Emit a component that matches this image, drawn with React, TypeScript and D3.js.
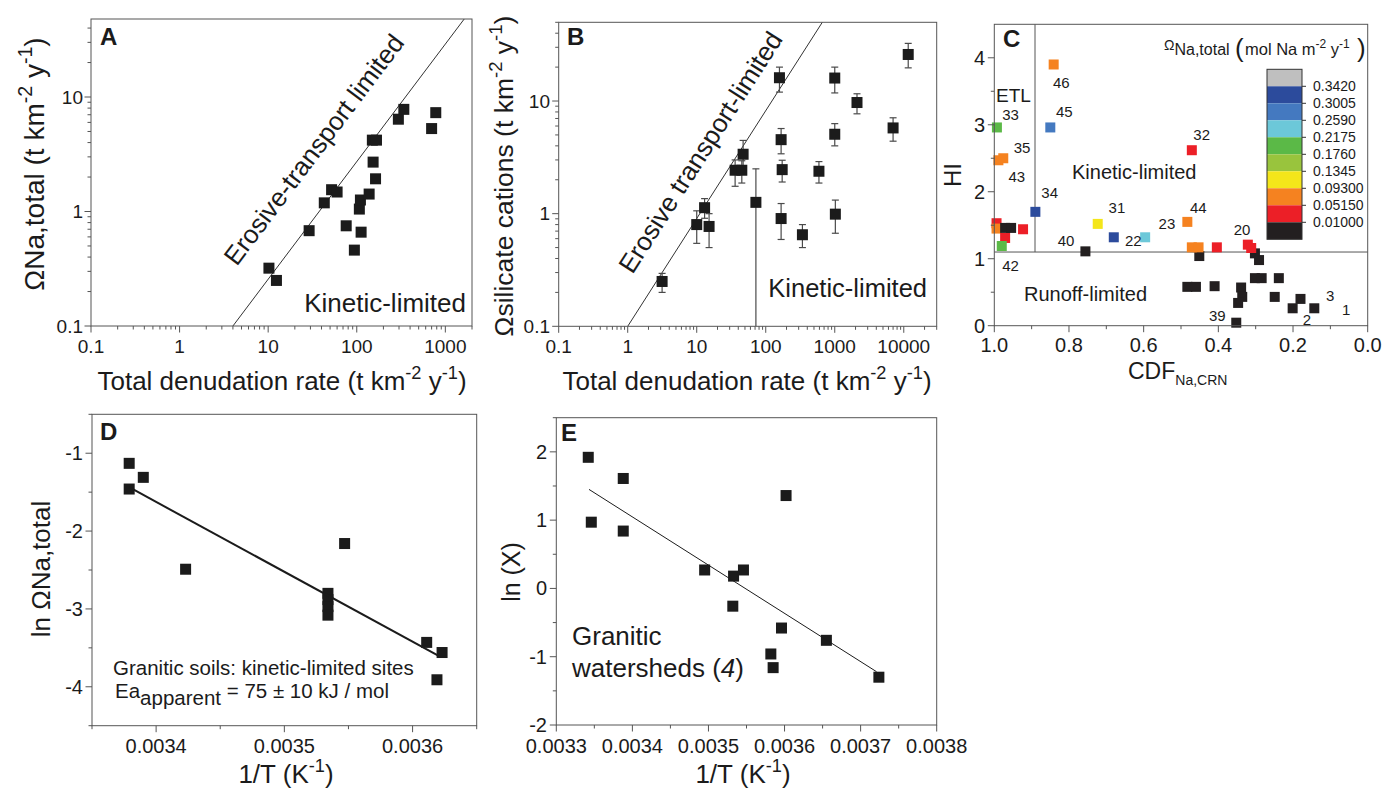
import React from 'react';
import * as d3 from 'd3';

const FONT = '"Liberation Sans", Arial, Helvetica, sans-serif';
const INK = '#1b1b1b';
const FRAME = '#555';

// panel A: total denudation vs Omega Na,total
const aDenudation = [10.2, 12.4, 29, 43, 52, 60, 76, 94, 107, 110, 112, 138, 150, 167, 153, 163, 295, 340, 700, 780];
const aOmegaNa = [0.32, 0.25, 0.68, 1.19, 1.55, 1.48, 0.75, 0.46, 1.05, 1.26, 0.66, 1.42, 4.2, 4.2, 2.7, 1.93, 6.4, 7.8, 5.3, 7.3];
const aBoundaryX = [4, 1700];
const aBoundaryY = [0.1, 50];
const aXTicks = [0.1, 1, 10, 100, 1000];
const aYTicks = [0.1, 1, 10];

// panel B: total denudation vs silicate cations (with error bars)
const bDenudation = [3.15, 10, 13, 15.1, 36, 45, 47, 72, 158, 167, 173, 167, 340, 590, 1000, 1000, 1020, 2100, 7000, 11600];
const bSilicate = [0.25, 0.8, 1.13, 0.77, 2.43, 2.43, 3.37, 1.26, 16.1, 4.54, 2.46, 0.905, 0.65, 2.38, 16, 5.07, 0.99, 9.7, 5.77, 25.9];
const bHigh = [0.295, 1.06, 1.36, 1.0, 3.0, 2.95, 4.47, 2.5, 20, 5.7, 2.98, 1.23, 0.8, 2.9, 20, 6.3, 1.32, 11.6, 7.1, 32.5];
const bLow = [0.2, 0.545, 0.91, 0.5, 1.75, 1.87, 2.5, 0.05, 12, 3.4, 1.91, 0.59, 0.5, 1.87, 11.8, 4.0, 0.67, 7.7, 4.4, 19.7];
const bBoundaryX = [1, 660];
const bBoundaryY = [0.1, 50];
const bXTicks = [0.1, 1, 10, 100, 1000, 10000];
const bYTicks = [0.1, 1, 10];

// panel C: HI vs CDF, coloured by Omega class
const cbColors = ['#bfbfbf', '#2c4b9c', '#4479c0', '#6cc8d9', '#5bb947', '#99c43d', '#f4e61a', '#f58220', '#ec1f27', '#231f20'];
const cbLabels = ['0.3420', '0.3005', '0.2590', '0.2175', '0.1760', '0.1345', '0.09300', '0.05150', '0.01000'];
const cCdf = [0.302, 0.291, 0.302, 0.284, 0.238, 0.483, 0.46, 0.41, 0.339, 0.336, 0.347, 0.249, 0.18, 0.201, 0.143, 0.352, 0.451,
  0.994, 0.994, 0.971, 0.98, 0.971, 0.955, 0.923, 0.841, 0.993, 0.85, 0.989, 0.976, 0.89, 0.756, 0.723, 0.68, 0.596, 0.483, 0.471, 0.471, 0.453, 0.404, 0.321, 0.312];
const cHi = [1.08, 0.98, 0.71, 0.71, 0.71, 0.58, 0.58, 0.59, 0.57, 0.43, 0.34, 0.43, 0.4, 0.26, 0.26, 0.045, 1.04,
  1.53, 1.45, 1.31, 1.19, 1.46, 1.46, 1.44, 3.9, 2.96, 2.96, 2.47, 2.5, 1.7, 1.11, 1.52, 1.32, 1.32, 1.55, 2.62, 1.17, 1.17, 1.17, 1.21, 1.16];
const cClass = [9, 9, 9, 9, 9, 9, 9, 9, 9, 9, 9, 9, 9, 9, 9, 9, 9,
  8, 7, 8, 4, 9, 9, 8, 7, 4, 2, 7, 7, 1, 9, 6, 1, 3, 7, 8, 7, 7, 8, 8, 8];
const cTagText = ['46', '45', '33', '35', '43', '34', '31', '23', '22', '40', '42', '44', '32', '20', '39', '3', '2', '1'];
const cTagCdf = [0.843, 0.835, 0.979, 0.948, 0.962, 0.874, 0.694, 0.56, 0.65, 0.83, 0.979, 0.476, 0.467, 0.359, 0.425, 0.112, 0.174, 0.069];
const cTagHi = [3.55, 3.11, 3.07, 2.58, 2.15, 1.91, 1.68, 1.45, 1.19, 1.19, 0.82, 1.68, 2.78, 1.36, 0.07, 0.37, 0.01, 0.16];
const cEtlCdf = 0.891;
const cKineticHi = 1.1;
const cXTicks = [1.0, 0.8, 0.6, 0.4, 0.2, 0.0];
const cYTicks = [0, 1, 2, 3, 4];

// panel D: granitic soils
const dInvT = [0.003379, 0.003379, 0.00339, 0.003423, 0.003534, 0.003534, 0.003534, 0.003534, 0.003547, 0.003611, 0.003623, 0.003619];
const dLnOmega = [-1.13, -1.46, -1.31, -2.49, -2.8, -2.88, -2.97, -3.08, -2.16, -3.43, -3.56, -3.91];
const dFitX = [0.003379, 0.00362];
const dFitY = [-1.437, -3.6];
const dXTicks = [0.0034, 0.0035, 0.0036];
const dYTicks = [-1, -2, -3, -4];

// panel E: granitic watersheds
const eInvT = [0.003342, 0.003346, 0.003388, 0.003388, 0.003495, 0.003533, 0.003546, 0.003532, 0.003602, 0.003596, 0.003582, 0.003585, 0.003655, 0.003724];
const eLnX = [1.92, 0.97, 1.61, 0.84, 0.27, 0.18, 0.27, -0.26, 1.36, -0.58, -0.96, -1.16, -0.76, -1.3];
const eFitX = [0.003343, 0.003721];
const eFitY = [1.45, -1.22];
const eXTicks = [0.0033, 0.0034, 0.0035, 0.0036, 0.0037, 0.0038];
const eYTicks = [-2, -1, 0, 1, 2];

const isPow10 = (v: number) => Math.abs(Math.log10(v) - Math.round(Math.log10(v))) < 1e-6;

function Box({ x, y }: any) {
  const [x0, x1] = x.range();
  const [y0, y1] = y.range();
  return <rect x={Math.min(x0, x1)} y={Math.min(y0, y1)} width={Math.abs(x1 - x0)} height={Math.abs(y1 - y0)}
    fill="none" stroke={FRAME} strokeWidth={1} />;
}

function XAxis({ scale, y, majors, minors, fmt, fs, labelY }: any) {
  return (
    <g>
      {minors.map((v: number, i: number) => (
        <line key={'m' + i} x1={scale(v)} x2={scale(v)} y1={y} y2={y + 3.5} stroke={FRAME} />
      ))}
      {majors.map((v: number, i: number) => (
        <g key={'M' + i}>
          <line x1={scale(v)} x2={scale(v)} y1={y} y2={y + 6.5} stroke={FRAME} />
          <text x={scale(v)} y={labelY} textAnchor="middle" fontSize={fs} fill={INK}>{fmt(v)}</text>
        </g>
      ))}
    </g>
  );
}

function YAxis({ scale, x, majors, minors, fmt, fs, labelX }: any) {
  return (
    <g>
      {minors.map((v: number, i: number) => (
        <line key={'m' + i} x1={x} x2={x - 3.5} y1={scale(v)} y2={scale(v)} stroke={FRAME} />
      ))}
      {majors.map((v: number, i: number) => (
        <g key={'M' + i}>
          <line x1={x} x2={x - 6.5} y1={scale(v)} y2={scale(v)} stroke={FRAME} />
          <text x={labelX} y={scale(v) + fs * 0.35} textAnchor="end" fontSize={fs} fill={INK}>{fmt(v)}</text>
        </g>
      ))}
    </g>
  );
}

function Squares({ xs, ys, x, y, size, fill }: any) {
  return (
    <g>
      {xs.map((v: number, i: number) => (
        <rect key={i} x={x(v) - size / 2} y={y(ys[i]) - size / 2} width={size} height={size}
          fill={typeof fill === 'function' ? fill(i) : fill} />
      ))}
    </g>
  );
}

const logFmt = (v: number) => (v >= 1 ? String(Math.round(v)) : String(v));
const Sup = ({ children, fs }: any) => <tspan dy={-fs * 0.42} fontSize={fs * 0.7}>{children}</tspan>;

function PanelA() {
  const x = d3.scaleLog().domain([0.1, 2000]).range([91, 472]);
  const y = d3.scaleLog().domain([0.1, 48]).range([326, 19]);
  const xt = x.ticks().filter((v) => v <= 2000);
  const yt = y.ticks();
  const x1 = x(aBoundaryX[0]), y1 = y(aBoundaryY[0]), x2 = x(aBoundaryX[1]), y2 = y(aBoundaryY[1]);
  const ang = (Math.atan2(y2 - y1, x2 - x1) * 180) / Math.PI;
  const fs = 26;
  return (
    <g>
      <defs>
        <clipPath id="clipA"><rect x={91} y={19} width={381} height={307} /></clipPath>
      </defs>
      <line x1={x1} y1={y1} x2={x2} y2={y2} stroke={INK} strokeWidth={0.9} clipPath="url(#clipA)" />
      <Squares xs={aDenudation} ys={aOmegaNa} x={x} y={y} size={11} fill={INK} />
      <Box x={x} y={y} />
      <XAxis scale={x} y={326} majors={aXTicks} minors={xt.filter((v) => !isPow10(v))} fmt={logFmt} fs={19} labelY={353} />
      <YAxis scale={y} x={91} majors={aYTicks} minors={yt.filter((v) => !isPow10(v))} fmt={logFmt} fs={19} labelX={83} />
      <text x={100} y={45} fontSize={24} fontWeight="bold" fill={INK}>A</text>
      <text transform={`translate(321,155) rotate(${ang})`} textAnchor="middle" fontSize={fs} fill={INK}>Erosive-transport limited</text>
      <text x={466} y={312} textAnchor="end" fontSize={fs} fill={INK}>Kinetic-limited</text>
      <text x={282} y={390} textAnchor="middle" fontSize={fs} fill={INK}>
        Total denudation rate (t km<Sup fs={fs}>-2</Sup><tspan dy={fs * 0.42}>{' y'}</tspan><Sup fs={fs}>-1</Sup><tspan dy={fs * 0.42}>)</tspan>
      </text>
      <text transform="translate(44,164) rotate(-90)" textAnchor="middle" fontSize={28} fill={INK}>
        ΩNa,total (t km<Sup fs={28}>-2</Sup><tspan dy={28 * 0.42}>{' y'}</tspan><Sup fs={28}>-1</Sup><tspan dy={28 * 0.42}>)</tspan>
      </text>
    </g>
  );
}

function PanelB() {
  const x = d3.scaleLog().domain([0.1, 30000]).range([558.7, 936.7]);
  const y = d3.scaleLog().domain([0.1, 50]).range([326.3, 22.3]).clamp(true);
  const xt = x.ticks();
  const yt = y.ticks();
  const x1 = x(bBoundaryX[0]), y1 = y(bBoundaryY[0]), x2 = x(bBoundaryX[1]), y2 = y(bBoundaryY[1]);
  const ang = (Math.atan2(y2 - y1, x2 - x1) * 180) / Math.PI;
  const fs = 26;
  return (
    <g>
      <line x1={x1} y1={y1} x2={x2} y2={y2} stroke={INK} strokeWidth={0.9} />
      <g stroke="#4a4a4a" strokeWidth={1.2}>
        {bDenudation.map((v, i) => (
          <g key={i}>
            <line x1={x(v)} x2={x(v)} y1={y(bLow[i])} y2={y(bHigh[i])} />
            <line x1={x(v) - 3.5} x2={x(v) + 3.5} y1={y(bHigh[i])} y2={y(bHigh[i])} />
            {bLow[i] >= 0.1 && <line x1={x(v) - 3.5} x2={x(v) + 3.5} y1={y(bLow[i])} y2={y(bLow[i])} />}
          </g>
        ))}
      </g>
      <Squares xs={bDenudation} ys={bSilicate} x={x} y={y} size={11} fill={INK} />
      <Box x={x} y={y} />
      <XAxis scale={x} y={326.3} majors={bXTicks} minors={xt.filter((v) => !isPow10(v))} fmt={logFmt} fs={19} labelY={353} />
      <YAxis scale={y} x={558.7} majors={bYTicks} minors={yt.filter((v) => !isPow10(v))} fmt={logFmt} fs={19} labelX={550} />
      <text x={567} y={45} fontSize={24} fontWeight="bold" fill={INK}>B</text>
      <text transform={`translate(708,157) rotate(${ang})`} textAnchor="middle" fontSize={fs} fill={INK}>Erosive transport-limited</text>
      <text x={927} y={297} textAnchor="end" fontSize={25.5} fill={INK}>Kinetic-limited</text>
      <text x={747} y={390} textAnchor="middle" fontSize={fs} fill={INK}>
        Total denudation rate (t km<Sup fs={fs}>-2</Sup><tspan dy={fs * 0.42}>{' y'}</tspan><Sup fs={fs}>-1</Sup><tspan dy={fs * 0.42}>)</tspan>
      </text>
      <text transform="translate(513,176) rotate(-90)" textAnchor="middle" fontSize={26.5} fill={INK}>
        Ωsilicate cations (t km<Sup fs={26.5}>-2</Sup><tspan dy={26.5 * 0.42}>{' y'}</tspan><Sup fs={26.5}>-1</Sup><tspan dy={26.5 * 0.42}>)</tspan>
      </text>
    </g>
  );
}

function PanelC() {
  const x = d3.scaleLinear().domain([1, 0]).range([994.3, 1367.7]);
  const y = d3.scaleLinear().domain([0, 4.5]).range([325.7, 24.3]);
  const cb = d3.scaleLinear().domain([0, cbColors.length]).range([69.3, 239.3]);
  const cbX = 1267, cbW = 35;
  return (
    <g>
      <line x1={x(1)} x2={x(0)} y1={y(cKineticHi)} y2={y(cKineticHi)} stroke={FRAME} strokeWidth={1} />
      <line x1={x(cEtlCdf)} x2={x(cEtlCdf)} y1={y(cKineticHi)} y2={y(4.5)} stroke={FRAME} strokeWidth={1} />
      <Squares xs={cCdf} ys={cHi} x={x} y={y} size={10} fill={(i: number) => cbColors[cClass[i]]} />
      {cTagText.map((t, i) => (
        <text key={i} x={x(cTagCdf[i])} y={y(cTagHi[i])} fontSize={15} fill={INK}>{t}</text>
      ))}
      <Box x={x} y={y} />
      <XAxis scale={x} y={325.7} majors={cXTicks} minors={[0.9, 0.7, 0.5, 0.3, 0.1]} fmt={d3.format('.1f')} fs={20} labelY={352} />
      <YAxis scale={y} x={994.3} majors={cYTicks} minors={[0.5, 1.5, 2.5, 3.5]} fmt={(v: number) => String(v)} fs={20} labelX={985} />
      <text x={1003} y={47} fontSize={24} fontWeight="bold" fill={INK}>C</text>
      <text x={996} y={102} fontSize={19} fill={INK}>ETL</text>
      <text x={1072} y={179} fontSize={20} fill={INK}>Kinetic-limited</text>
      <text x={1024} y={301} fontSize={20} fill={INK}>Runoff-limited</text>
      {cbColors.map((c, i) => (
        <rect key={i} x={cbX} y={cb(i)} width={cbW} height={cb(i + 1) - cb(i)} fill={c} />
      ))}
      <rect x={cbX} y={cb(0)} width={cbW} height={cb(cbColors.length) - cb(0)} fill="none" stroke="#333" strokeWidth={1} />
      {cbLabels.map((t, i) => (
        <g key={i}>
          <line x1={cbX + cbW} x2={cbX + cbW + 4} y1={cb(i + 1)} y2={cb(i + 1)} stroke="#333" />
          <text x={1313} y={cb(i + 1) + 5} fontSize={14} fill={INK}>{t}</text>
        </g>
      ))}
      <text x={1164} y={50} fill={INK} fontSize={14}>
        Ω<tspan fontSize={16} dy={5}>Na,total</tspan>
      </text>
      <text x={1235} y={57} fontSize={26} fill={INK}>(</text>
      <text x={1245} y={55} fontSize={16.5} fill={INK}>
        mol Na m<tspan dy={-7} fontSize={12}>-2</tspan><tspan dy={7}>{' y'}</tspan><tspan dy={-7} fontSize={12}>-1</tspan>
      </text>
      <text x={1357} y={57} fontSize={26} fill={INK}>)</text>
      <text transform="translate(961,175) rotate(-90)" textAnchor="middle" fontSize={24} fill={INK}>HI</text>
      <text x={1128} y={379} fontSize={23} fill={INK}>
        CDF<tspan dy={6} fontSize={14}>Na,CRN</tspan>
      </text>
    </g>
  );
}

function PanelD() {
  const x = d3.scaleLinear().domain([0.00335, 0.00365]).range([92, 476.7]);
  const y = d3.scaleLinear().domain([-4.5, -0.5]).range([725.7, 414.3]);
  return (
    <g>
      <Squares xs={dInvT} ys={dLnOmega} x={x} y={y} size={11} fill={INK} />
      <line x1={x(dFitX[0])} y1={y(dFitY[0])} x2={x(dFitX[1])} y2={y(dFitY[1])} stroke={INK} strokeWidth={2} />
      <Box x={x} y={y} />
      <XAxis scale={x} y={725.7} majors={dXTicks} minors={[0.00335, 0.00345, 0.00355, 0.00365]} fmt={d3.format('.4f')} fs={20} labelY={753} />
      <YAxis scale={y} x={92} majors={dYTicks} minors={[-0.5, -1.5, -2.5, -3.5, -4.5]} fmt={(v: number) => String(v)} fs={20} labelX={83} />
      <text x={100} y={440} fontSize={24} fontWeight="bold" fill={INK}>D</text>
      <text x={113} y={675} fontSize={20.5} fill={INK}>Granitic soils: kinetic-limited sites</text>
      <text x={115} y={698} fontSize={20.5} fill={INK}>
        Ea<tspan dy={7}>apparent</tspan><tspan dy={-7}>{' = 75 ± 10 kJ / mol'}</tspan>
      </text>
      <text x={286} y={783} textAnchor="middle" fontSize={26} fill={INK}>
        1/T (K<Sup fs={26}>-1</Sup><tspan dy={26 * 0.42}>)</tspan>
      </text>
      <text transform="translate(50,569) rotate(-90)" textAnchor="middle" fontSize={26} fill={INK}>ln ΩNa,total</text>
    </g>
  );
}

function PanelE() {
  const x = d3.scaleLinear().domain([0.0033, 0.0038]).range([556.3, 936.7]);
  const y = d3.scaleLinear().domain([-2, 2.5]).range([725, 417.7]);
  return (
    <g>
      <Squares xs={eInvT} ys={eLnX} x={x} y={y} size={11} fill={INK} />
      <line x1={x(eFitX[0])} y1={y(eFitY[0])} x2={x(eFitX[1])} y2={y(eFitY[1])} stroke={INK} strokeWidth={1} />
      <Box x={x} y={y} />
      <XAxis scale={x} y={725} majors={eXTicks} minors={[0.00335, 0.00345, 0.00355, 0.00365, 0.00375]} fmt={d3.format('.4f')} fs={20} labelY={753} />
      <YAxis scale={y} x={556.3} majors={eYTicks} minors={[-1.5, -0.5, 0.5, 1.5, 2.5]} fmt={(v: number) => String(v)} fs={20} labelX={547} />
      <text x={561} y={441} fontSize={24} fontWeight="bold" fill={INK}>E</text>
      <text x={572} y={645} fontSize={26} fill={INK}>Granitic</text>
      <text x={572} y={677} fontSize={26} fill={INK}>
        watersheds (<tspan fontStyle="italic">4</tspan>)
      </text>
      <text x={743} y={783} textAnchor="middle" fontSize={26} fill={INK}>
        1/T (K<Sup fs={26}>-1</Sup><tspan dy={26 * 0.42}>)</tspan>
      </text>
      <text transform="translate(520,572) rotate(-90)" textAnchor="middle" fontSize={25} fill={INK}>ln (X)</text>
    </g>
  );
}

export default function App() {
  return (
    <svg width={1382} height={789} viewBox="0 0 1382 789" fontFamily={FONT}
      style={{ position: 'absolute', left: 0, top: 0, background: '#fff' }}>
      <rect width={1382} height={789} fill="#fff" />
      <PanelA />
      <PanelB />
      <PanelC />
      <PanelD />
      <PanelE />
    </svg>
  );
}
